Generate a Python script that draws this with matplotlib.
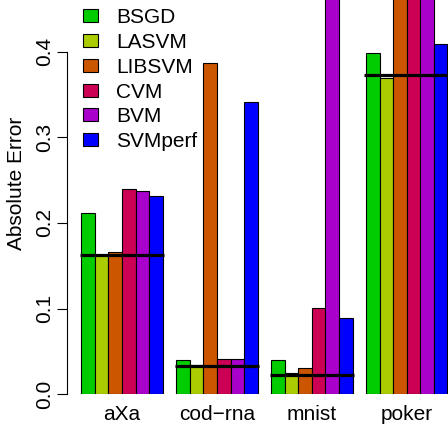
import numpy as np
import matplotlib
matplotlib.use("Agg")
from matplotlib import pyplot as plt

plt.rcParams["font.family"] = ["Liberation Sans", "DejaVu Sans"]

datasets = ["aXa", "cod\u2212rna", "mnist", "poker"]
methods = ["BSGD", "LASVM", "LIBSVM", "CVM", "BVM", "SVMperf"]
colors = ["#00CC00", "#AACC00", "#CC5500", "#CC0055", "#AA00CC", "#0000FF"]

# absolute error per dataset, one list per method (bars above 0.46 are cut off)
bsgd = [0.212, 0.0397, 0.0397, 0.3988]
lasvm = [0.163, 0.0345, 0.0245, 0.3689]
libsvm = [0.1658, 0.3872, 0.0303, 0.52]
cvm = [0.2393, 0.0409, 0.101, 0.52]
bvm = [0.237, 0.0416, 0.52, 0.52]
svmperf = [0.2315, 0.341, 0.0887, 0.4086]
# reference level drawn as a black line over each group
baseline = [0.1628, 0.0330, 0.0224, 0.3731]

errors = [bsgd, lasvm, libsvm, cvm, bvm, svmperf]

W, H = 448, 425
fig = plt.figure(figsize=(W / 100, H / 100), dpi=100)
ax = fig.add_axes([66.7 / W, (H - 394.3) / H, (W - 66.7) / W, 394.3 / H])

n_m = len(methods)
for j, (name, vals) in enumerate(zip(methods, errors)):
    x = np.arange(len(datasets)) * (n_m + 1) + 1 + j
    ax.bar(x, vals, width=1, align="edge", color=colors[j],
           edgecolor="black", linewidth=0.8, label=name)

for g, level in enumerate(baseline):
    left = g * (n_m + 1) + 1
    ax.hlines(level, left - 0.12, left + n_m + 0.12, color="black",
              linewidth=2.3, zorder=5)

ax.set_xlim(-0.08, -0.08 + (W - 66.7) / 13.56)
ax.set_ylim(0, 0.4603)

centers = np.arange(len(datasets)) * (n_m + 1) + 1 + n_m / 2
ax.set_xticks(centers)
ax.set_xticklabels(datasets, fontsize=15)
ax.tick_params(axis="x", length=0, pad=8)

ax.set_yticks([0, 0.1, 0.2, 0.3, 0.4])
ax.set_yticklabels(["0.0", "0.1", "0.2", "0.3", "0.4"], fontsize=15,
                   rotation=90, va="center")
ax.tick_params(axis="y", length=7, width=0.8, pad=2)

for s in ["top", "right", "bottom"]:
    ax.spines[s].set_visible(False)
ax.spines["left"].set_bounds(0, 0.4)
ax.spines["left"].set_linewidth(0.8)

fig.text(17 / W, 1 - 183 / H, "Absolute Error", rotation=90,
         ha="center", va="center", fontsize=15)

ax.legend(loc="upper left", bbox_to_anchor=(82.7 / W, 1 - 8 / H),
          bbox_transform=fig.transFigure, frameon=False, fontsize=15,
          handlelength=0.72, handleheight=0.58, handletextpad=0.9,
          labelspacing=0.28, borderpad=0, borderaxespad=0)

fig.savefig("out.png", dpi=100)
